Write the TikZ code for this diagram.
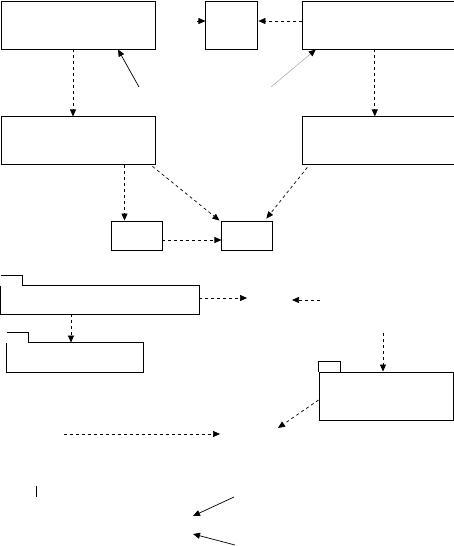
\documentclass[tikz,border=0pt]{standalone}
\usepackage{tikz}
\usetikzlibrary{positioning, calc}
\usetikzlibrary{arrows.meta}
\tikzstyle{classbox}=[rectangle,draw=black,line width=0.9pt,inner sep=0pt]
\tikzstyle{folderbody}=[rectangle,line width=0.9pt,inner sep=0pt]
\tikzstyle{foldertab}=[draw=black,line width=0.9pt]
\tikzstyle{depedge} = [-{Triangle[length=7pt,width=6pt]},line width=0.7pt,
dash pattern=on 3pt off 3pt]
\tikzstyle{assocedge} = [-{Triangle[length=7pt,width=6pt]},line width=0.7pt]

\begin{document}
\begin{tikzpicture}[x=1pt,y=-1pt]
        \useasboundingbox (0,0) rectangle (454,546);
        % top rows
        \node[classbox, minimum width=154pt, minimum height=48pt] (a) at (78,25) {};
        \node[classbox, minimum width=52pt, minimum height=48pt, right =50pt of a] (b) {};
        \node[classbox, minimum width=152pt, minimum height=48pt, right =44pt of b] (c) {};
        \node[classbox, minimum width=154pt, minimum height=48pt, below =67pt of a] (d) {};
        \node[classbox, minimum width=152pt, minimum height=48pt, below =67pt of c] (e) {};
        \node[classbox, minimum width=51pt, minimum height=29pt] (f) at (136.5,235.5) {};
        \node[classbox, minimum width=51pt, minimum height=29pt, right =59pt of f] (g) {};

        % folders
        \node[folderbody, minimum width=198pt, minimum height=28pt] (h) at (100,300) {};
        \node[folderbody, minimum width=136pt, minimum height=29pt] (i) at (75,357.5) {};
        \node[classbox, minimum width=134pt, minimum height=48pt] (j) at (386,396) {};
        \draw[foldertab] (h.north west) ++(0,-10) -- ++(22,0) -- ++(0,10)
            -- (h.north east) -- (h.south east) -- (h.south west) -- (h.north west);
        \draw[foldertab] (i.north west) ++(0,-10) -- ++(22,0) -- ++(0,10)
            -- (i.north east) -- (i.south east) -- (i.south west) -- (i.north west);
        \draw[foldertab] (j.north west) -- ++(0,-10) -- ++(22,0) -- ++(0,10);

        \coordinate (bIn) at ([xshift=-8pt,yshift=4pt]b.west);
        \coordinate (aFrom) at (139,87);
        \coordinate (cFrom) at (271,87);
        \coordinate (fTop) at ([xshift=-12pt]f.north);
        \coordinate (hOut) at (247,298);
        \coordinate (kFrom) at (320,300);
        \coordinate (kTo) at (292,300);
        \coordinate (iTop) at ([xshift=-4pt]i.north);
        \coordinate (jFrom) at (383,333);
        \coordinate (jTop) at ([xshift=-3pt]j.north);
        \coordinate (jOut) at (278,428);
        \coordinate (mFrom) at (64,434);
        \coordinate (mTo) at (220,434);
        \coordinate (nFrom) at (234,497);
        \coordinate (nTo) at (193,516);
        \coordinate (pFrom) at (235,545);
        \coordinate (pTo) at (193,534);

        \draw[depedge] ([yshift=4pt]c.west) -- ([yshift=4pt]b.east);
        \draw[assocedge] (bIn) -- ([yshift=4pt]b.west);
        \draw[assocedge] (aFrom) -- ([xshift=40pt]a.south);
        \draw[-{Triangle[length=7pt,width=6pt,color=black]},gray!70,line width=0.5pt]
            (cFrom) -- ([xshift=-63pt]c.south);
        \draw[depedge] ([xshift=-5pt]a.south) -- ([xshift=-5pt]d.north);
        \draw[depedge] ([xshift=-4pt]c.south) -- ([xshift=-4pt]e.north);
        \draw[depedge] (fTop |- d.south) -- (fTop);
        \draw[depedge] ([xshift=-3pt,yshift=-1pt]d.south east) -- ([xshift=-2pt]g.north west);
        \draw[depedge] ([xshift=5pt,yshift=-2pt]e.south west) -- ([xshift=-7pt,yshift=2pt]g.north east);
        \draw[depedge] ([yshift=-4.5pt]f.east) -- ([yshift=-4.5pt]g.west);

        \draw[depedge] ([yshift=2pt]h.east) -- (hOut);
        \draw[depedge] (kFrom) -- (kTo);
        \draw[depedge] (iTop |- h.south) -- (iTop);
        \draw[depedge] (jFrom) -- (jTop);
        \draw[depedge] ([yshift=-4pt]j.west) -- (jOut);
        \draw[depedge] (mFrom) -- (mTo);
        \draw[line width=0.7pt] (36,486) -- (36,497);
        \draw[assocedge] (nFrom) -- (nTo);
        \draw[assocedge] (pFrom) -- (pTo);
\end{tikzpicture}
\end{document}
